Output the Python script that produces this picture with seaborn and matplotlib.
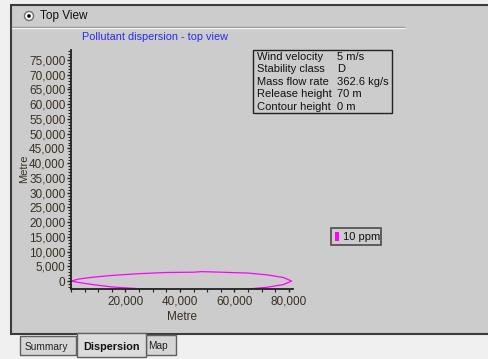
import matplotlib
matplotlib.use("Agg")
import matplotlib.pyplot as plt
import seaborn as sns
import pandas as pd
from matplotlib.patches import Rectangle, Circle
from matplotlib.ticker import MultipleLocator, FuncFormatter

# Contour (10 ppm), metres
contour_x = [0, 3000, 8000, 15000, 25000, 35000, 45000, 48000, 55000, 65000, 72000, 78000, 81000,
             78000, 72000, 65000, 55000, 48000, 45000, 35000, 25000, 15000, 8000, 3000, 0]
contour_y = [0, 700, 1300, 1900, 2500, 2900, 3000, 3200, 3000, 2700, 2100, 1200, 0,
             -1200, -2100, -2700, -3000, -3200, -3000, -2900, -2600, -2000, -1200, -500, 0]
contour_label = "10 ppm"

info_keys = ["Wind velocity", "Stability class", "Mass flow rate", "Release height", "Contour height"]
info_vals = ["5 m/s", "D", "362.6 kg/s", "70 m", "0 m"]
tabs = ["Summary", "Dispersion", "Map"]

sns.set_theme(style="white")
plt.rcParams['font.family'] = ['Liberation Sans', 'DejaVu Sans']

W, H = 488, 359
fig = plt.figure(figsize=(W / 100, H / 100), dpi=100)
fig.patch.set_facecolor("#f0f0f0")

def fx(px):
    return px / W

def fy(py):
    return 1 - py / H

# background overlay axes
bg = fig.add_axes([0, 0, 1, 1])
bg.set_xlim(0, W)
bg.set_ylim(H, 0)
bg.axis("off")
# panel
bg.add_patch(Rectangle((11, 5), 480, 329, facecolor="#cccccc", edgecolor="#3c3c3c", lw=1.5))
bg.plot([12, 404], [26.5, 26.5], color="#8a8a8a", lw=1)
bg.plot([12, 404], [27.5, 27.5], color="#f4f4f4", lw=1)
# radio button
bg.add_patch(Circle((29, 16), 4.5, facecolor="white", edgecolor="#707070", lw=1))
bg.add_patch(Circle((29, 16), 1.8, facecolor="black", edgecolor="none"))
bg.text(40, 16.5, "Top View", fontsize=8.5, va="center", ha="left", color="#111111")
# tabs
bg.add_patch(Rectangle((20, 336), 56, 19, facecolor="#d6d6d6", edgecolor="#606060", lw=1))
bg.add_patch(Rectangle((146, 335), 30, 20, facecolor="#d6d6d6", edgecolor="#606060", lw=1))
bg.add_patch(Rectangle((77, 333), 69, 24, facecolor="#dcdcdc", edgecolor="#606060", lw=1, zorder=3))
bg.text(46, 346.5, tabs[0], fontsize=7.3, ha="center", va="center", color="#222222")
bg.text(111, 347, tabs[1], fontsize=7.8, ha="center", va="center", fontweight="bold", color="#111111", zorder=4)
bg.text(158, 346, tabs[2], fontsize=7.3, ha="center", va="center", color="#222222")

# main plot axes
x0, x1, y0, y1 = 71, 293, 50, 289
ax = fig.add_axes([fx(x0), fy(y1), fx(x1 - x0), (y1 - y0) / H])
ax.set_facecolor("none")
df = pd.DataFrame({"x": contour_x, "y": contour_y})
sns.lineplot(data=df, x="x", y="y", sort=False, estimator=None, color="#ff00ff", lw=0.9, ax=ax)
ax.set_xlim(0, 81500)
ax.set_ylim(-2700, 78400)
for s in ["top", "right"]:
    ax.spines[s].set_visible(False)
for s in ["left", "bottom"]:
    ax.spines[s].set_color("#222222")
    ax.spines[s].set_linewidth(1.3)
ax.xaxis.set_major_locator(MultipleLocator(20000))
ax.xaxis.set_minor_locator(MultipleLocator(5000))
ax.yaxis.set_major_locator(MultipleLocator(5000))
ax.yaxis.set_minor_locator(MultipleLocator(1000))
fmt = FuncFormatter(lambda v, p: f"{int(v):,}")
ax.xaxis.set_major_formatter(fmt)
ax.yaxis.set_major_formatter(fmt)
ax.tick_params(axis="both", which="major", direction="out", length=3, width=1, color="#222222",
               labelsize=8.5, labelcolor="#3a3022", pad=1)
ax.tick_params(axis="both", which="minor", direction="out", length=2, width=0.8, color="#222222")
ax.tick_params(axis="x", which="major", length=2, pad=3)
ax.tick_params(bottom=True, left=True, which="both")
ax.set_xticks([20000, 40000, 60000, 80000])
ax.set_xlabel("Metre", fontsize=8.5, color="#3a3022", labelpad=2)
ax.set_ylabel("Metre", fontsize=8, color="#3a3022")
ax.yaxis.set_label_coords((29 - x0) / (x1 - x0), (y1 - 169) / (y1 - y0))
if ax.get_legend() is not None:
    ax.get_legend().remove()

# title
bg.text(155, 37, "Pollutant dispersion - top view", fontsize=7.8, color="#2a2aee", ha="center", va="center")

# info box
bg.add_patch(Rectangle((253, 50), 139, 63, facecolor="none", edgecolor="#222222", lw=1))
for i, (k, v) in enumerate(zip(info_keys, info_vals)):
    yy = 56.5 + i * 12.6
    bg.text(257, yy, k, fontsize=8, color="#111111", va="center", ha="left")
    bg.text(337, yy, v, fontsize=8, color="#111111", va="center", ha="left")

# legend box
bg.add_patch(Rectangle((331, 228), 50, 17, facecolor="#cccccc", edgecolor="#555555", lw=1.3))
bg.add_patch(Rectangle((335, 231.5), 3.5, 9.5, facecolor="#ff00ff", edgecolor="none"))
bg.text(343, 236.5, contour_label, fontsize=8, color="#111111", va="center", ha="left")

fig.savefig("out.png", dpi=100, facecolor=fig.get_facecolor())
